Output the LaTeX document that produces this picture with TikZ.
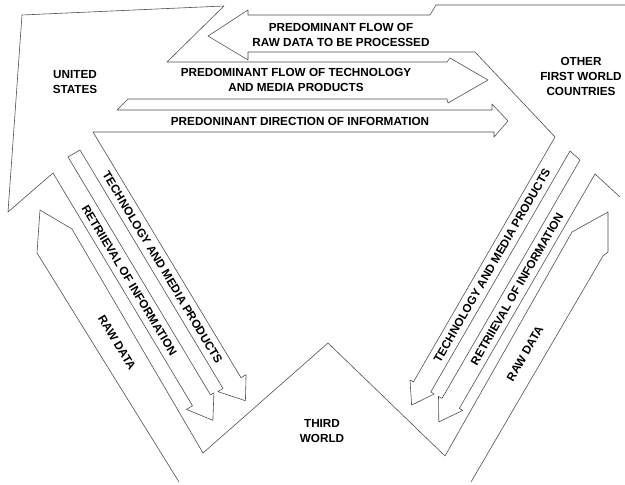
\documentclass[tikz,border=0pt]{standalone}
\usepackage{fontspec}
\setmainfont{Liberation Sans}

\begin{document}
\begin{tikzpicture}[x=0.03cm,y=-0.03cm,
every node/.style={font=\fontsize{10}{12.8}\selectfont\bfseries,align=center,inner sep=0pt},
outline/.style={line width=0.5pt,draw=black!70,line join=round}]
\useasboundingbox (0,0) rectangle (625,485);
\node (US) at (75,82) {UNITED\\STATES};
\node (OFW) at (581,76) {OTHER\\FIRST WORLD\\COUNTRIES};
\node (TW) at (322,431) {THIRD\\WORLD};
\node (T1) at (341,34.5) {PREDOMINANT FLOW OF\\RAW DATA TO BE PROCESSED};
\node (T2) at (296,80) {PREDOMINANT FLOW OF TECHNOLOGY\\AND MEDIA PRODUCTS};
\node (T3) at (300,121) {PREDONINANT DIRECTION OF INFORMATION};
\node[rotate=-59] (L1) at (162.5,267.5) {TECHNOLOGY AND MEDIA PRODUCTS};
\node[rotate=-59] (L2) at (129.4,280.4) {RETRIIEVAL OF INFORMATION};
\node[rotate=-59] (L3) at (117,342.5) {RAW DATA};
\node[rotate=60] (R1) at (492,265.6) {TECHNOLOGY AND MEDIA PRODUCTS};
\node[rotate=60] (R2) at (517,289) {RETRIIEVAL OF INFORMATION};
\node[rotate=60] (R3) at (525,353.5) {RAW DATA};
\draw[outline] (224,6) -- (22,15) -- (8,212) -- (53,173)
  -- (192.5,405.8) -- (186.5,409.4) -- (212.9,420.3) -- (213.9,392.9) -- (210.5,394.9) -- (68,157)
  -- (80,150) -- (223,388.5) -- (217.8,391.6) -- (245.4,400.7) -- (246.1,374.6) -- (241,377.7) -- (93,132)
  -- (494,132) -- (494,137) -- (508,121) -- (492,104) -- (492,110) -- (117,110) -- (128,99)
  -- (447,99) -- (448,103) -- (488,80) -- (450,58) -- (447,62) -- (167,62) -- cycle;
\draw[outline] (625,5) -- (436,5) -- (430,15) -- (248,15) -- (248,10) -- (208,36) -- (248,60) -- (248,52)
  -- (475,52) -- (555,137)
  -- (413.4,381.9) -- (410,380) -- (411.6,405.1) -- (434.2,393.9) -- (430.8,391.9) -- (570,151)
  -- (580,160) -- (442,398.4) -- (438.5,396.4) -- (438.8,421.9) -- (462.8,410.4) -- (459.3,408.4)
  -- (595,174) -- (620,197);
\draw[outline] (179,482) -- (37,253) -- (40,210) -- (72,229) -- (203,453) -- (328,343) -- (445,456)
  -- (572,232) -- (608,212) -- (608,252) -- (603,256) -- (471,482);
\end{tikzpicture}
\end{document}
